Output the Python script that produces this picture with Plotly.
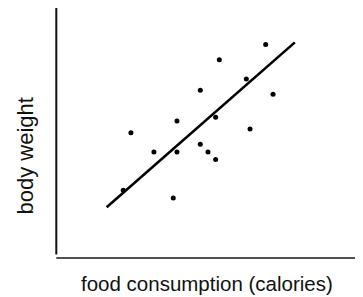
import plotly.graph_objects as go

# data (arbitrary units)
food = [6.83, 5.32, 6.20, 4.70, 7.07, 5.20, 3.94, 6.32, 2.44, 4.70, 3.19, 3.94, 4.95, 5.20, 2.19, 3.82]
weight = [8.51, 7.90, 7.13, 6.68, 6.52, 5.61, 5.46, 5.14, 4.99, 4.53, 4.22, 4.22, 4.22, 3.92, 2.70, 2.39]
fit_x = [1.65, 7.78]
fit_y = [2.02, 8.59]
x_title = "food consumption (calories)"
y_title = "body weight"

# page has a default 8px body margin, so the figure is sized to fit the window
OFF = 8
W, H = 363 - OFF, 297 - OFF
# plot area in page pixels: x 56..363, y 8..258
PX0, PX1, PY0, PY1 = 56, 363, 8, 258
L, R, T, B = PX0 - OFF, 363 - PX1, PY0 - OFF, 297 - PY1

def px_to_paper_x(px):
    return (px - PX0) / (PX1 - PX0)

def px_to_paper_y(py):
    return (PY1 - py) / (PY1 - PY0)

fig = go.Figure()
fig.add_trace(go.Scatter(x=fit_x, y=fit_y, mode="lines",
                         line=dict(color="black", width=2.6), hoverinfo="skip"))
fig.add_trace(go.Scatter(x=food, y=weight, mode="markers",
                         marker=dict(color="black", size=5, line=dict(width=0))))

font = "Liberation Sans, Arial, sans-serif"
fig.update_layout(
    width=W, height=H,
    margin=dict(l=L, r=R, t=T, b=B),
    paper_bgcolor="white", plot_bgcolor="white",
    showlegend=False,
    xaxis=dict(range=[0, 10], showgrid=False, zeroline=False, showticklabels=False,
               ticks="", showline=False),
    yaxis=dict(range=[0, (PY1 - PY0) / 25.1], showgrid=False, zeroline=False,
               showticklabels=False, ticks="", showline=False),
    shapes=[
        dict(type="line", xref="paper", yref="paper",
             x0=px_to_paper_x(56.3), x1=px_to_paper_x(56.3),
             y0=1.0, y1=px_to_paper_y(254.5),
             line=dict(color="#111111", width=2)),
        dict(type="line", xref="paper", yref="paper",
             x0=px_to_paper_x(56.3), x1=1.0,
             y0=px_to_paper_y(258), y1=px_to_paper_y(258),
             line=dict(color="#505050", width=2)),
    ],
    annotations=[
        dict(text=x_title, xref="paper", yref="paper",
             x=px_to_paper_x(206.5), y=px_to_paper_y(283.5),
             xanchor="center", yanchor="middle", showarrow=False,
             font=dict(family=font, size=20.5, color="#111111")),
        dict(text=y_title, xref="paper", yref="paper", textangle=-90,
             x=px_to_paper_x(24.5), y=px_to_paper_y(156),
             xanchor="center", yanchor="middle", showarrow=False,
             font=dict(family=font, size=22, color="#111111")),
    ],
)

fig.write_html("out.html")
